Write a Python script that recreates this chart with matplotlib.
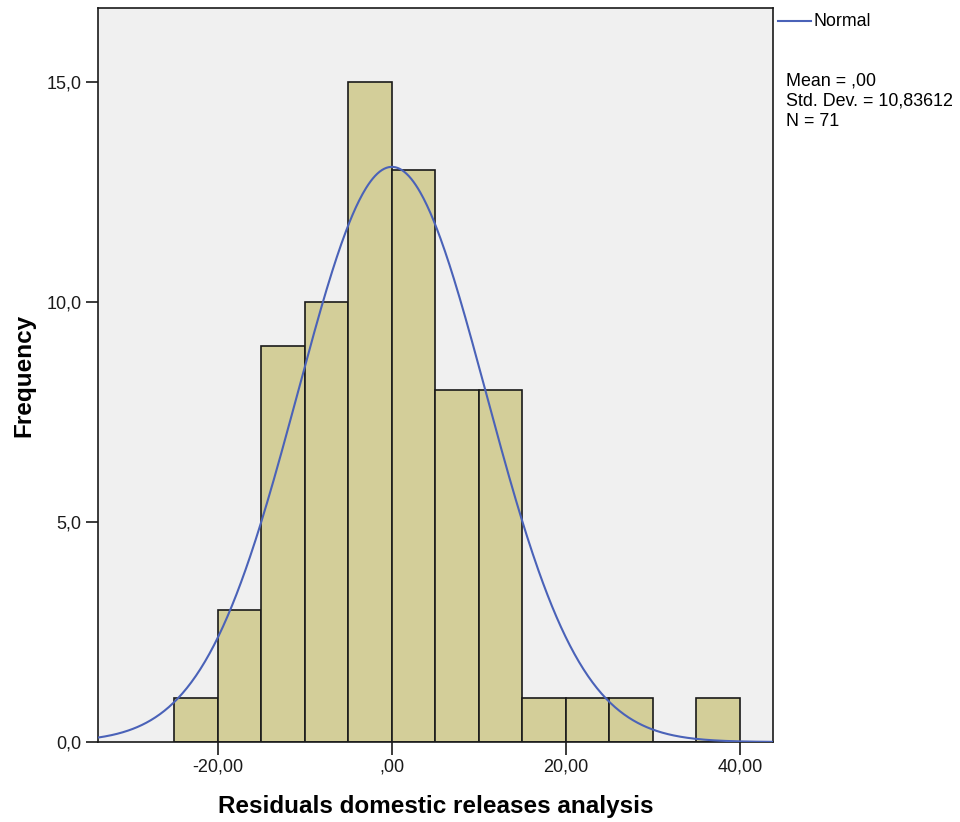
import numpy as np
import matplotlib
matplotlib.use("Agg")
import matplotlib.pyplot as plt
from matplotlib.ticker import FuncFormatter

bin_edges = [-25, -20, -15, -10, -5, 0, 5, 10, 15, 20, 25, 30, 35, 40]
counts = [1, 3, 9, 10, 15, 13, 8, 8, 1, 1, 1, 0, 1]
mean = 0.0
std = 10.83612
n = 71
x_ticks = [-20, 0, 20, 40]
y_ticks = [0, 5, 10, 15]

plt.rcParams['font.family'] = ['Arial', 'Liberation Sans', 'DejaVu Sans']

fig = plt.figure(figsize=(9.6, 8.22), dpi=100)
ax = fig.add_axes([0.102, 0.0973, 0.703, 0.893])
ax.set_facecolor('#F0F0F0')

widths = np.diff(bin_edges)
ax.bar(bin_edges[:-1], counts, width=widths, align='edge',
       color='#D3CE99', edgecolor='#1a1a1a', linewidth=1.2, zorder=2)

xmin, xmax = -33.8, 43.8
xs = np.linspace(xmin, xmax, 600)
bw = widths[0]
ys = n * bw / (std * np.sqrt(2 * np.pi)) * np.exp(-0.5 * ((xs - mean) / std) ** 2)
line, = ax.plot(xs, ys, color='#4A62B8', linewidth=1.5, zorder=3)

ax.set_xlim(xmin, xmax)
ax.set_ylim(0, 16.68)
ax.set_xticks(x_ticks)
ax.set_yticks(y_ticks)

def xfmt(v, p):
    if v == 0:
        return ',00'
    return f'{v:.2f}'.replace('.', ',')

def yfmt(v, p):
    return f'{v:.1f}'.replace('.', ',')

ax.xaxis.set_major_formatter(FuncFormatter(xfmt))
ax.yaxis.set_major_formatter(FuncFormatter(yfmt))
ax.tick_params(axis='both', direction='out', length=9, width=1.2,
               labelsize=13, colors='#1a1a1a', pad=3)
for s in ax.spines.values():
    s.set_color('#1a1a1a')
    s.set_linewidth(1.2)

ax.set_xlabel('Residuals domestic releases analysis', fontsize=17.5,
              fontweight='bold', labelpad=14)
ax.set_ylabel('Frequency', fontsize=17.5, fontweight='bold', labelpad=8)

# legend / stats outside on the right
fig.lines.append(plt.Line2D([0.810, 0.845], [0.974, 0.974],
                            transform=fig.transFigure, color='#4A62B8',
                            linewidth=1.5))
fig.text(0.847, 0.974, 'Normal', fontsize=12.8, va='center', ha='left')
fig.text(0.819, 0.877,
         'Mean = ,00\nStd. Dev. = 10,83612\nN = 71',
         fontsize=12.9, va='center', ha='left', linespacing=1.27)

fig.savefig('out.png', dpi=100)
